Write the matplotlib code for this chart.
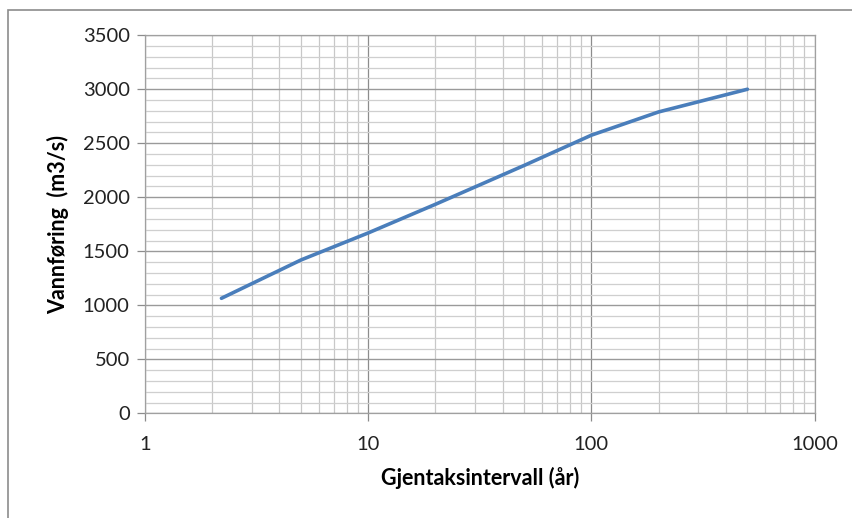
import matplotlib
matplotlib.use("Agg")
import matplotlib.pyplot as plt
from matplotlib.ticker import LogLocator, MultipleLocator, FixedLocator, NullFormatter
from matplotlib.patches import Rectangle

# return period (years) and discharge (m3/s)
return_period = [2.2, 5, 10, 20, 50, 100, 200, 500]
discharge = [1065, 1420, 1670, 1935, 2295, 2575, 2790, 3000]

x_ticks = [1, 10, 100, 1000]
x_tick_labels = ["1", "10", "100", "1000"]

plt.rcParams['font.family'] = ['Lato', 'DejaVu Sans']

fig = plt.figure(figsize=(8.53, 5.18), dpi=100)
ax = fig.add_axes([0.170, 0.202, 0.785, 0.730])

ax.plot(return_period, discharge, color='#4A7EBB', lw=2.6,
        solid_capstyle='round', zorder=3)

ax.set_xscale('log')
ax.set_xlim(1, 1000)
ax.set_ylim(0, 3500)

ax.xaxis.set_major_locator(FixedLocator(x_ticks))
ax.set_xticklabels(x_tick_labels)
ax.xaxis.set_minor_locator(LogLocator(base=10, subs=range(2, 10)))
ax.xaxis.set_minor_formatter(NullFormatter())
ax.yaxis.set_major_locator(MultipleLocator(500))
ax.yaxis.set_minor_locator(MultipleLocator(100))

ax.grid(which='major', axis='x', color='#8c8c8c', lw=0.9)
ax.grid(which='minor', axis='x', color='#c8c8c8', lw=0.9)
ax.grid(which='major', axis='y', color='#9a9a9a', lw=1.0)
ax.grid(which='minor', axis='y', color='#cfcfcf', lw=0.9)
ax.set_axisbelow(True)

for s in ax.spines.values():
    s.set_color('#a0a0a0')
    s.set_linewidth(0.9)

ax.tick_params(which='major', length=6, width=0.9, color='#8c8c8c',
               labelsize=14.5, labelcolor='#222222')
ax.tick_params(axis='x', which='major', pad=10)
ax.tick_params(axis='y', which='major', pad=5)
ax.tick_params(which='minor', length=0)

ax.set_xlabel('Gjentaksintervall (år)', fontsize=15.5, fontweight='bold',
              labelpad=10)
ax.set_ylabel('Vannføring  (m3/s)', fontsize=15.5, fontweight='bold',
              labelpad=10)

# chart area border
fig.patches.append(Rectangle((0.009, -0.1), 1.2, 1.08, transform=fig.transFigure,
                             fill=False, edgecolor='#8c8c8c', lw=1.2))

fig.savefig('out.png', dpi=100)
